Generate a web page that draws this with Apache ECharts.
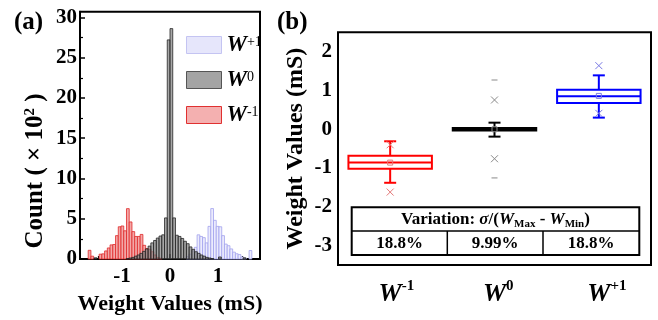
<!DOCTYPE html>
<html><head><meta charset="utf-8">
<script src="https://cdn.jsdelivr.net/npm/echarts@6/dist/echarts.min.js"></script>
<style>html,body{margin:0;padding:0;background:#fff}#c{width:658px;height:320px}</style>
</head><body><div id="c"></div>
<script>
// ---------- DATA ----------
const binWidth = 0.057;
// Panel (a) histograms: bin centers (mS) and counts (x10^2)
const redCenters = [-1.676,-1.619,-1.562,-1.505,-1.448,-1.391,-1.334,-1.277,-1.220,-1.163,-1.106,-1.049,-0.992,-0.935,-0.878,-0.821,-0.764,-0.707,-0.650,-0.593,-0.536,-0.479,-0.422,-0.365,-0.308,-0.251,-0.194];
const redCounts  = [1.08,0.35,0,0,0.6,0.64,1.0,1.37,1.75,1.8,2.9,4.0,4.1,3.5,6.25,4.6,3.4,2.8,2.8,3.05,1.7,1.3,1.2,0.9,0.5,0.2,0.1];
const blueCenters = [0.365,0.422,0.479,0.536,0.593,0.650,0.707,0.764,0.821,0.878,0.935,0.992,1.049,1.106,1.163,1.220,1.277,1.334,1.391,1.448,1.505,1.562,1.619,1.676];
const blueCounts  = [0.3,0.6,1.0,1.45,3.0,2.8,2.65,2.0,4.05,6.26,4.8,4.05,4.0,2.9,1.85,1.65,1.25,0.85,0.65,0.55,0.25,0.1,0,1.05];
const blackCenters = [-1.55,-0.8835,-0.8265,-0.7695,-0.7125,-0.6555,-0.5985,-0.5415,-0.4845,-0.4275,-0.3705,-0.3135,-0.2565,-0.1995,-0.1425,-0.0855,-0.0285,0.0285,0.0855,0.1425,0.1995,0.2565,0.3135,0.3705,0.4275,0.4845,0.5415,0.5985,0.6555,0.7125,0.7695,0.8265,0.8835,1.04,1.55];
const blackCounts  = [0.15,0.06,0.12,0.2,0.35,0.5,0.7,0.95,1.25,1.6,2.0,2.3,2.6,2.85,3.0,5.1,27.2,28.6,5.1,2.95,2.8,2.55,2.2,1.9,1.5,1.2,0.9,0.7,0.5,0.35,0.2,0.12,0.06,0.25,0.15];
const aXTicks = [-1, 0, 1];
const aXMinor = [-1.5, -0.5, 0.5, 1.5];
const aYTicks = [0, 5, 10, 15, 20, 25, 30];
const aYMinor = [2.5, 7.5, 12.5, 17.5, 22.5, 27.5];

// Panel (b) box plots
const boxCats = ['W-1', 'W0', 'W+1'];
const whiskerLow  = [-1.38, -0.19, 0.30];
const q1          = [-1.02, -0.035, 0.68];
const median      = [-0.86, 0.0, 0.85];
const q3          = [-0.68, 0.035, 1.02];
const whiskerHigh = [-0.31, 0.17, 1.39];
const means       = [-0.86, 0.0, 0.86];
const pct1        = [-1.62, -0.76, 0.41];
const pct99       = [-0.40, 0.755, 1.64];
const minVals     = [null, -1.255, null];
const maxVals     = [null, 1.27, null];
const bYTicks = [-3, -2, -1, 0, 1, 2];
const variationHeader = 'Variation';
const variationValues = ['18.8%', '9.99%', '18.8%'];

// ---------- STYLE ----------
const FONT = '"Liberation Serif", "Times New Roman", serif';
const boxColors = ['#ff0000', '#000000', '#0000ff'];
const markColors = ['#e47a7a', '#8a8a8a', '#7a7ae4'];
const supMap = {'W-1':'-1','W0':'0','W+1':'+1'};

function histRender(fill, stroke, lw) {
  return function (params, api) {
    const c = api.value(0), v = api.value(1);
    if (!(v > 0)) return;
    const p0 = api.coord([c - binWidth / 2, v]);
    const p1 = api.coord([c + binWidth / 2, 0]);
    return {type: 'rect', shape: {x: p0[0], y: p0[1], width: p1[0] - p0[0], height: p1[1] - p0[1]},
      style: {fill: fill, stroke: stroke, lineWidth: lw}};
  };
}

function boxRender(params, api) {
  const i = api.value(0);
  const col = boxColors[i], mc = markColors[i];
  const bw = api.size([1, 0])[0] * 0.8;
  const cx = api.coord([i, 0])[0];
  const y = v => api.coord([i, v])[1];
  const ch = [];
  const lw = 2;
  const yq1 = y(api.value(2)), yq3 = y(api.value(4));
  ch.push({type: 'rect', shape: {x: cx - bw / 2, y: yq3, width: bw, height: yq1 - yq3}, style: {fill: 'none', stroke: col, lineWidth: lw}});
  ch.push({type: 'line', shape: {x1: cx - bw / 2, y1: y(api.value(3)), x2: cx + bw / 2, y2: y(api.value(3))}, style: {stroke: col, lineWidth: lw}});
  const yl = y(api.value(1)), yh = y(api.value(5));
  ch.push({type: 'line', shape: {x1: cx, y1: yq3, x2: cx, y2: yh}, style: {stroke: col, lineWidth: lw}});
  ch.push({type: 'line', shape: {x1: cx, y1: yq1, x2: cx, y2: yl}, style: {stroke: col, lineWidth: lw}});
  ch.push({type: 'line', shape: {x1: cx - 6, y1: yh, x2: cx + 6, y2: yh}, style: {stroke: col, lineWidth: lw}});
  ch.push({type: 'line', shape: {x1: cx - 6, y1: yl, x2: cx + 6, y2: yl}, style: {stroke: col, lineWidth: lw}});
  const ym = y(api.value(6));
  ch.push({type: 'rect', shape: {x: cx - 2.5, y: ym - 2.5, width: 5, height: 5}, style: {fill: 'none', stroke: mc, lineWidth: 1}});
  [api.value(7), api.value(8)].forEach(v => {
    const yy = y(v);
    ch.push({type: 'line', shape: {x1: cx - 3.5, y1: yy - 3.5, x2: cx + 3.5, y2: yy + 3.5}, style: {stroke: mc, lineWidth: 1}});
    ch.push({type: 'line', shape: {x1: cx - 3.5, y1: yy + 3.5, x2: cx + 3.5, y2: yy - 3.5}, style: {stroke: mc, lineWidth: 1}});
  });
  [minVals[i], maxVals[i]].forEach(v => {
    if (v === null) return;
    const yy = y(v);
    ch.push({type: 'line', shape: {x1: cx - 3, y1: yy, x2: cx + 3, y2: yy}, style: {stroke: mc, lineWidth: 1}});
  });
  return {type: 'group', children: ch};
}

const labelBase = {color: '#000', fontFamily: FONT, fontWeight: 'bold'};
const richW = {
  w: {fontSize: 26, fontStyle: 'italic', fontWeight: 'bold', fontFamily: FONT, color: '#000', lineHeight: 30},
  s: {fontSize: 15, fontWeight: 'bold', fontFamily: FONT, color: '#000', lineHeight: 16, verticalAlign: 'top'},
  g: {fontSize: 15, fontWeight: 'bold', fontFamily: FONT, color: 'rgba(0,0,0,0)', lineHeight: 16, verticalAlign: 'top'}
};

const chart = echarts.init(document.getElementById('c'), null, {renderer: 'canvas'});
const option = {
  animation: false,
  backgroundColor: '#fff',
  grid: [
    {left: 80, top: 11.7, width: 180, height: 256, show: true, borderColor: '#000', borderWidth: 2},
    {left: 338, top: 32.3, width: 313, height: 232.7, show: true, borderColor: '#000', borderWidth: 2}
  ],
  xAxis: [
    {type: 'value', gridIndex: 0, min: -1.875, max: 1.875, position: 'bottom',
      axisLine: {onZero: false, lineStyle: {color: '#000', width: 2}},
      axisTick: {inside: true, length: 5, lineStyle: {color: '#000', width: 1.5}, customValues: aXTicks},
      axisLabel: Object.assign({customValues: aXTicks, fontSize: 21, margin: 7}, labelBase),
      splitLine: {show: false},
      name: 'Weight Values (mS)', nameLocation: 'middle', nameGap: 34,
      nameTextStyle: Object.assign({fontSize: 22}, labelBase)},
    {type: 'value', gridIndex: 0, min: -1.875, max: 1.875, position: 'bottom',
      axisLine: {show: false, onZero: false}, axisLabel: {show: false}, splitLine: {show: false},
      axisTick: {inside: true, length: 3, lineStyle: {color: '#000', width: 1.2}, customValues: aXMinor}},
    {type: 'category', gridIndex: 1, data: boxCats, position: 'bottom',
      axisLine: {onZero: false, lineStyle: {color: '#000', width: 2}},
      axisTick: {inside: true, alignWithLabel: true, length: 5, lineStyle: {color: '#000', width: 1.5}},
      axisLabel: {interval: 0, margin: 14, formatter: v => `{g|${supMap[v]}}{w|W}{s|${supMap[v]}}`, rich: richW},
      splitLine: {show: false}}
  ],
  yAxis: [
    {type: 'value', gridIndex: 0, min: 0, max: 30.7, position: 'left',
      axisLine: {onZero: false, lineStyle: {color: '#000', width: 2}},
      axisTick: {inside: true, length: 5, lineStyle: {color: '#000', width: 1.5}, customValues: aYTicks},
      axisLabel: Object.assign({customValues: aYTicks, fontSize: 21, margin: 3}, labelBase),
      splitLine: {show: false}},
    {type: 'value', gridIndex: 0, min: 0, max: 30.7, position: 'left',
      axisLine: {show: false, onZero: false}, axisLabel: {show: false}, splitLine: {show: false},
      axisTick: {inside: true, length: 3, lineStyle: {color: '#000', width: 1.2}, customValues: aYMinor}},
    {type: 'value', gridIndex: 1, min: -3.5, max: 2.5, position: 'left',
      axisLine: {onZero: false, lineStyle: {color: '#000', width: 2}},
      axisTick: {inside: false, length: 5, lineStyle: {color: '#000', width: 1.5}, customValues: bYTicks},
      axisLabel: Object.assign({customValues: bYTicks, fontSize: 21, margin: 6}, labelBase),
      splitLine: {show: false},
      name: 'Weight Values (mS)', nameLocation: 'middle', nameGap: 30,
      nameTextStyle: Object.assign({fontSize: 24}, labelBase)}
  ],
  legend: {
    orient: 'vertical', left: 181, top: 28.5, itemWidth: 35, itemHeight: 17, itemGap: 12,
    selectedMode: false,
    data: [
      {name: 'W+1', icon: 'rect', itemStyle: {color: '#e6e6fb', borderColor: '#c4c4f2', borderWidth: 1}},
      {name: 'W0', icon: 'rect', itemStyle: {color: '#a4a4a4', borderColor: '#555', borderWidth: 1}},
      {name: 'W-1', icon: 'rect', itemStyle: {color: '#f4b0b0', borderColor: '#e03030', borderWidth: 1}}
    ],
    formatter: n => `{w|W}{s|${supMap[n]}}`,
    textStyle: {rich: {
      w: {fontSize: 23, fontStyle: 'italic', fontWeight: 'bold', fontFamily: FONT, color: '#000', lineHeight: 20},
      s: {fontSize: 14, fontWeight: 'normal', fontFamily: FONT, color: '#000', lineHeight: 14, verticalAlign: 'top'}
    }}
  },
  series: [
    {type: 'custom', name: 'W-1', xAxisIndex: 0, yAxisIndex: 0, z: 2,
      itemStyle: {color: '#f4b0b0'},
      data: redCenters.map((c, i) => [c, redCounts[i]]), encode: {x: 0, y: 1},
      renderItem: histRender('#f3a8a8', '#e02828', 0.8)},
    {type: 'custom', name: 'W+1', xAxisIndex: 0, yAxisIndex: 0, z: 2,
      itemStyle: {color: '#e6e6fb'},
      data: blueCenters.map((c, i) => [c, blueCounts[i]]), encode: {x: 0, y: 1},
      renderItem: histRender('#ececfd', '#a2a2ee', 0.8)},
    {type: 'custom', name: 'W0', xAxisIndex: 0, yAxisIndex: 0, z: 3,
      itemStyle: {color: '#a4a4a4'},
      data: blackCenters.map((c, i) => [c, blackCounts[i]]), encode: {x: 0, y: 1},
      renderItem: histRender('rgba(125,125,125,0.68)', '#252525', 0.8)},
    {type: 'custom', name: 'box', xAxisIndex: 2, yAxisIndex: 2, z: 3,
      data: boxCats.map((c, i) => [i, whiskerLow[i], q1[i], median[i], q3[i], whiskerHigh[i], means[i], pct1[i], pct99[i]]),
      encode: {x: 0, y: [1, 2, 3, 4, 5]},
      renderItem: boxRender}
  ],
  graphic: [
    {type: 'text', left: 14, top: 10, style: {text: '(a)', fontSize: 25, fill: '#000', fontFamily: FONT, fontWeight: 'bold'}},
    {type: 'text', left: 277, top: 10, style: {text: '(b)', fontSize: 25, fill: '#000', fontFamily: FONT, fontWeight: 'bold'}},
    {type: 'text', x: 36, y: 171, rotation: Math.PI / 2,
      style: {text: '{t|Count ( × 10}{s|2}{t| )}', align: 'center', verticalAlign: 'middle',
        rich: {t: {fontSize: 25, fontWeight: 'bold', fontFamily: FONT, fill: '#000', lineHeight: 27},
               s: {fontSize: 15, fontWeight: 'bold', fontFamily: FONT, fill: '#000', lineHeight: 15, verticalAlign: 'top'}}}},
    // table
    {type: 'rect', shape: {x: 351.7, y: 207.3, width: 287.6, height: 47.7}, style: {fill: '#fff', stroke: '#000', lineWidth: 2}, z: 20},
    {type: 'line', shape: {x1: 351.7, y1: 231, x2: 639.3, y2: 231}, style: {stroke: '#000', lineWidth: 1.5}, z: 21},
    {type: 'line', shape: {x1: 447.3, y1: 231, x2: 447.3, y2: 255}, style: {stroke: '#000', lineWidth: 1.5}, z: 21},
    {type: 'line', shape: {x1: 543, y1: 231, x2: 543, y2: 255}, style: {stroke: '#000', lineWidth: 1.5}, z: 21},
    {type: 'text', x: 495.5, y: 219.5, z: 22,
      style: {text: `{b|${variationHeader}: }{i|σ}{b|/(}{i|W}{sub|Max}{b| - }{i|W}{sub|Min}{b|)}`, align: 'center', verticalAlign: 'middle',
        rich: {b: {fontSize: 17, fontWeight: 'bold', fontFamily: FONT, fill: '#000', lineHeight: 20},
               i: {fontSize: 17, fontWeight: 'bold', fontStyle: 'italic', fontFamily: FONT, fill: '#000', lineHeight: 20},
               sub: {fontSize: 11, fontWeight: 'bold', fontFamily: FONT, fill: '#000', lineHeight: 12, verticalAlign: 'bottom'}}}},
    {type: 'text', x: 399.5, y: 243.5, z: 22, style: {text: variationValues[0], align: 'center', verticalAlign: 'middle', fontSize: 17, fontWeight: 'bold', fontFamily: FONT, fill: '#000'}},
    {type: 'text', x: 495.2, y: 243.5, z: 22, style: {text: variationValues[1], align: 'center', verticalAlign: 'middle', fontSize: 17, fontWeight: 'bold', fontFamily: FONT, fill: '#000'}},
    {type: 'text', x: 591.2, y: 243.5, z: 22, style: {text: variationValues[2], align: 'center', verticalAlign: 'middle', fontSize: 17, fontWeight: 'bold', fontFamily: FONT, fill: '#000'}}
  ]
};
chart.setOption(option);
</script></body></html>
